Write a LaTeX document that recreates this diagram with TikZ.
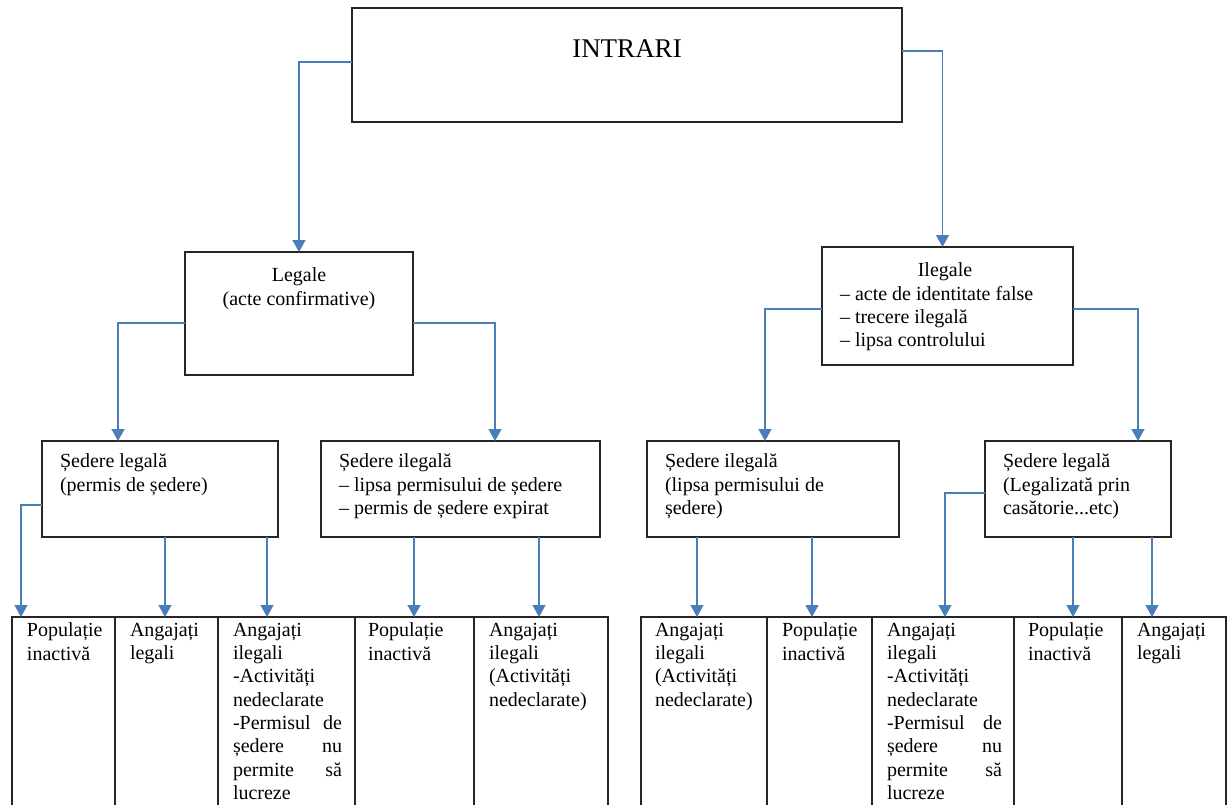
\documentclass[tikz,border=0pt]{standalone}
\usepackage{fontspec}
\setmainfont{Liberation Serif}
\usepackage{xcolor}
\usetikzlibrary{arrows.meta, positioning}
\definecolor{linkblue}{HTML}{4A7EBB}

\begin{document}
\begin{tikzpicture}[
        x=1pt, y=-1pt,
        box/.style={
            rectangle,
            draw=black!85,
            line width=1.3pt,
            inner sep=0pt,
            outer sep=0pt
        },
        cell/.style={box, minimum width=#1, minimum height=213pt},
        txt/.style={
            inner sep=0pt,
            outer sep=0pt,
            align=left,
            font=\fontsize{20}{23.3}\selectfont
        },
        link/.style={
            draw=linkblue,
            line width=1.3pt,
            -{Triangle[width=13pt,length=12pt]}
        }
    ]

    \useasboundingbox (0,0) rectangle (1229,804);
    \clip (0,0) rectangle (1229,804);

    % Boxes
    \node[box, minimum width=550pt, minimum height=114pt] (intr) at (627,65) {};
    \node[box, minimum width=228pt, minimum height=123pt] (legale) at (299,313.5) {};
    \node[box, minimum width=251pt, minimum height=118pt] (ilegale) at (947.5,306) {};
    \node[box, minimum width=236pt, minimum height=96pt] (sl1) at (160,489) {};
    \node[box, minimum width=279pt, minimum height=96pt] (si1) at (460.5,489) {};
    \node[box, minimum width=252pt, minimum height=96pt] (si2) at (773,489) {};
    \node[box, minimum width=186pt, minimum height=96pt] (sl2) at (1078,489) {};

    % Bottom row
    \node[cell=103pt, anchor=north west] (b1) at (12,617) {};
    \node[cell=103pt, right=0pt of b1] (b2) {};
    \node[cell=137pt, right=0pt of b2] (b3) {};
    \node[cell=119pt, right=0pt of b3] (b4) {};
    \node[cell=134pt, right=0pt of b4] (b5) {};
    \node[cell=126pt, anchor=north west] (b6) at (641,617) {};
    \node[cell=105pt, right=0pt of b6] (b7) {};
    \node[cell=142pt, right=0pt of b7] (b8) {};
    \node[cell=108pt, right=0pt of b8] (b9) {};
    \node[cell=104pt, right=0pt of b9] (b10) {};

    % Texts
    \node[txt, below=32pt of intr.north, font=\fontsize{27}{30}\selectfont] (intrt) {INTRARI};
    \node[txt, align=center, below=16pt of legale.north] (legalet) {Legale\\(acte confirmative)};
    \node[txt, below right=16pt and 18pt of ilegale.north west] (ilegalet)
        {\makebox[210pt]{Ilegale}\\– acte de identitate false\\– trecere ilegală\\– lipsa controlului};
    \node[txt, below right=13pt and 18pt of sl1.north west] (sl1t) {Ședere legală\\(permis de ședere)};
    \node[txt, below right=13pt and 18pt of si1.north west] (si1t)
        {Ședere ilegală\\– lipsa permisului de ședere\\– permis de ședere expirat};
    \node[txt, below right=13pt and 18pt of si2.north west] (si2t) {Ședere ilegală\\(lipsa permisului de\\ședere)};
    \node[txt, below right=13pt and 18pt of sl2.north west] (sl2t) {Ședere legală\\(Legalizată prin\\casătorie...etc)};

    \node[txt, below right=6pt and 15pt of b1.north west] (b1t) {Populație\\inactivă};
    \node[txt, below right=6pt and 15pt of b2.north west] (b2t) {Angajați\\legali};
    \node[txt, text width=109pt, below right=6pt and 15pt of b3.north west] (b3t)
        {Angajați\\ilegali\\-Activități\\nedeclarate\\-Permisul\hfill de\\ședere\hfill nu\\permite\hfill să\\lucreze};
    \node[txt, below right=6pt and 13pt of b4.north west] (b4t) {Populație\\inactivă};
    \node[txt, below right=6pt and 15pt of b5.north west] (b5t) {Angajați\\ilegali\\(Activități\\nedeclarate)};
    \node[txt, below right=6pt and 14pt of b6.north west] (b6t) {Angajați\\ilegali\\(Activități\\nedeclarate)};
    \node[txt, below right=6pt and 15pt of b7.north west] (b7t) {Populație\\inactivă};
    \node[txt, text width=115pt, below right=6pt and 15pt of b8.north west] (b8t)
        {Angajați\\ilegali\\-Activități\\nedeclarate\\-Permisul\hfill de\\ședere\hfill nu\\permite\hfill să\\lucreze};
    \node[txt, below right=6pt and 14pt of b9.north west] (b9t) {Populație\\inactivă};
    \node[txt, below right=6pt and 15pt of b10.north west] (b10t) {Angajați\\legali};

    % Arrows
    \draw[link] ([yshift=3pt]intr.west) -| (legale.north);
    \draw[link] ([yshift=14pt]intr.east) -| ([xshift=-5pt]ilegale.north);

    \draw[link] ([yshift=-9.5pt]legale.west) -| ([xshift=-42pt]sl1.north);
    \draw[link] ([yshift=-9.5pt]legale.east) -| ([xshift=34.5pt]si1.north);
    \draw[link] ([yshift=-3pt]ilegale.west) -| ([xshift=-8pt]si2.north);
    \draw[link] ([yshift=-3pt]ilegale.east) -| ([xshift=60pt]sl2.north);

    \draw[link] ([yshift=-16pt]sl1.west) -| ([xshift=-42.5pt]b1.north);
    \draw[link] ([xshift=5pt]sl1.south) -- ([xshift=-1.5pt]b2.north);
    \draw[link] ([xshift=107pt]sl1.south) -- ([xshift=-19.5pt]b3.north);
    \draw[link] ([xshift=-46.5pt]si1.south) -- ([xshift=-0.5pt]b4.north);
    \draw[link] ([xshift=78.5pt]si1.south) -- ([xshift=-2pt]b5.north);

    \draw[link] ([xshift=-76pt]si2.south) -- ([xshift=-7pt]b6.north);
    \draw[link] ([xshift=39pt]si2.south) -- ([xshift=-7.5pt]b7.north);
    \draw[link] ([yshift=-4pt]sl2.west) -| ([xshift=2pt]b8.north);
    \draw[link] ([xshift=-5pt]sl2.south) -- ([xshift=5pt]b9.north);
    \draw[link] ([xshift=74pt]sl2.south) -- ([xshift=-22pt]b10.north);

\end{tikzpicture}
\end{document}
